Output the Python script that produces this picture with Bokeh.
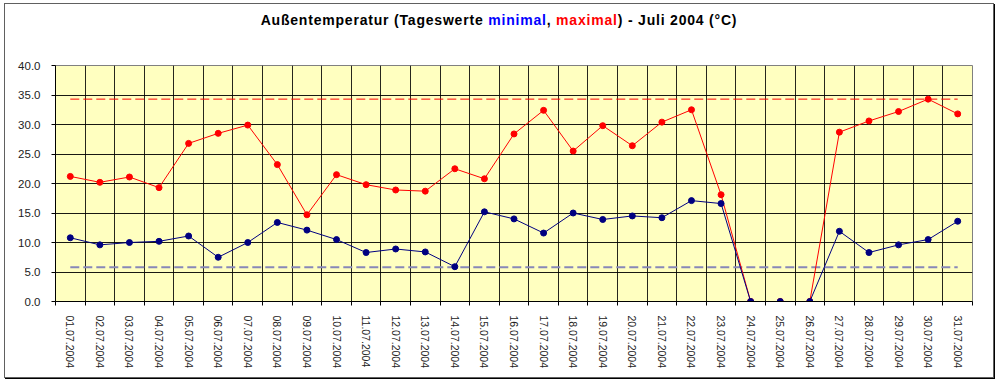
from bokeh.plotting import figure
from bokeh.models import Range1d, FixedTicker, PrintfTickFormatter, Div
from bokeh.layouts import column
from bokeh.embed import file_html
from bokeh.resources import INLINE

# ---- data ----
dates = ["%02d.07.2004" % d for d in range(1, 32)]
t_max = [21.2, 20.2, 21.1, 19.3, 26.8, 28.5, 29.9, 23.2, 14.7, 21.5,
         19.8, 18.9, 18.7, 22.5, 20.8, 28.4, 32.4, 25.5, 29.8, 26.4,
         30.4, 32.5, 18.1, 0.0, 0.0, 0.0, 28.7, 30.6, 32.2, 34.3, 31.8]
t_min = [10.8, 9.6, 10.0, 10.2, 11.1, 7.5, 10.0, 13.4, 12.1, 10.5,
         8.3, 8.9, 8.4, 5.9, 15.2, 14.0, 11.6, 15.0, 13.9, 14.5,
         14.2, 17.1, 16.6, 0.0, 0.0, 0.0, 11.9, 8.3, 9.6, 10.5, 13.6]
max_line_value = 34.3
min_line_value = 5.8
y_ticks = [0, 5, 10, 15, 20, 25, 30, 35, 40]

title_parts = ["Außentemperatur (Tageswerte ", "minimal", ", ", "maximal", ") - Juli 2004 (°C)"]
title_colors = ["#000000", "#0000ff", "#000000", "#ff0000", "#000000"]

days = list(range(1, len(dates) + 1))

p = figure(width=988, height=337, output_backend="svg", toolbar_location=None,
           x_range=Range1d(0.5, len(dates) + 0.5), y_range=Range1d(0, 40),
           min_border_left=50, min_border_top=25, min_border_right=21, min_border_bottom=76,
           background_fill_color="#ffffc0", border_fill_color="#ffffff",
           outline_line_color="#808080")

# x axis
p.xaxis.ticker = FixedTicker(ticks=days, minor_ticks=[d - 0.5 for d in days] + [days[-1] + 0.5])
p.xaxis.major_label_overrides = {d: s for d, s in zip(days, dates)}
p.xaxis.major_label_orientation = "vertical"
p.xaxis.major_tick_line_color = None
p.xaxis.minor_tick_line_color = "#000000"
p.xaxis.minor_tick_out = 4
p.xaxis.minor_tick_in = 0
p.xaxis.axis_line_color = "#000000"
p.xaxis.major_label_text_font = "Liberation Sans"
p.xaxis.major_label_text_font_size = "10.5px"
p.xaxis.major_label_text_color = "#222222"
p.xaxis.major_label_standoff = 8

# y axis
p.yaxis.ticker = FixedTicker(ticks=y_ticks)
p.yaxis.formatter = PrintfTickFormatter(format="%.1f")
p.yaxis.major_tick_line_color = "#000000"
p.yaxis.major_tick_out = 4
p.yaxis.major_tick_in = 0
p.yaxis.minor_tick_line_color = None
p.yaxis.axis_line_color = "#000000"
p.yaxis.major_label_text_font = "Liberation Sans"
p.yaxis.major_label_text_font_size = "11.5px"
p.yaxis.major_label_text_color = "#222222"
p.yaxis.major_label_standoff = 11

# grids
p.xgrid.grid_line_color = None
p.xgrid.minor_grid_line_color = "#000000"
p.xgrid.minor_grid_line_alpha = 0.85
p.ygrid.grid_line_color = "#000000"
p.ygrid.grid_line_alpha = 0.9

# dashed reference lines
p.line([days[0], days[-1]], [max_line_value, max_line_value], line_color="#ff0000",
       line_width=1, line_dash="9 4")
p.line([days[0], days[-1]], [min_line_value, min_line_value], line_color="#8888b8",
       line_width=2, line_dash="9 4")

# series
p.line(days, t_max, line_color="#ff0000", line_width=1)
p.scatter(days, t_max, marker="circle", size=6, fill_color="#ff0000", line_color="#ff0000")
p.line(days, t_min, line_color="#000080", line_width=1)
p.scatter(days, t_min, marker="circle", size=6, fill_color="#000080", line_color="#000080")

# multi-colour title
spans = "".join('<span style="color:%s">%s</span>' % (c, t) for t, c in zip(title_parts, title_colors))
title_div = Div(
    text=('<div style="font-family:\'Liberation Sans\',Arial,sans-serif;font-weight:bold;'
          'font-size:14px;letter-spacing:0.8px;line-height:16px;text-align:center;'
          'width:988px;padding-top:8px;white-space:pre;">%s</div>' % spans),
    width=988, height=36, margin=0)

layout = column(title_div, p, spacing=0,
                styles={"border": "1px solid #606060", "box-shadow": "1px 1px 0 #000000",
                        "margin-left": "4px", "margin-top": "3px", "background": "#ffffff"})

open("out.html", "w").write(file_html(layout, INLINE))
